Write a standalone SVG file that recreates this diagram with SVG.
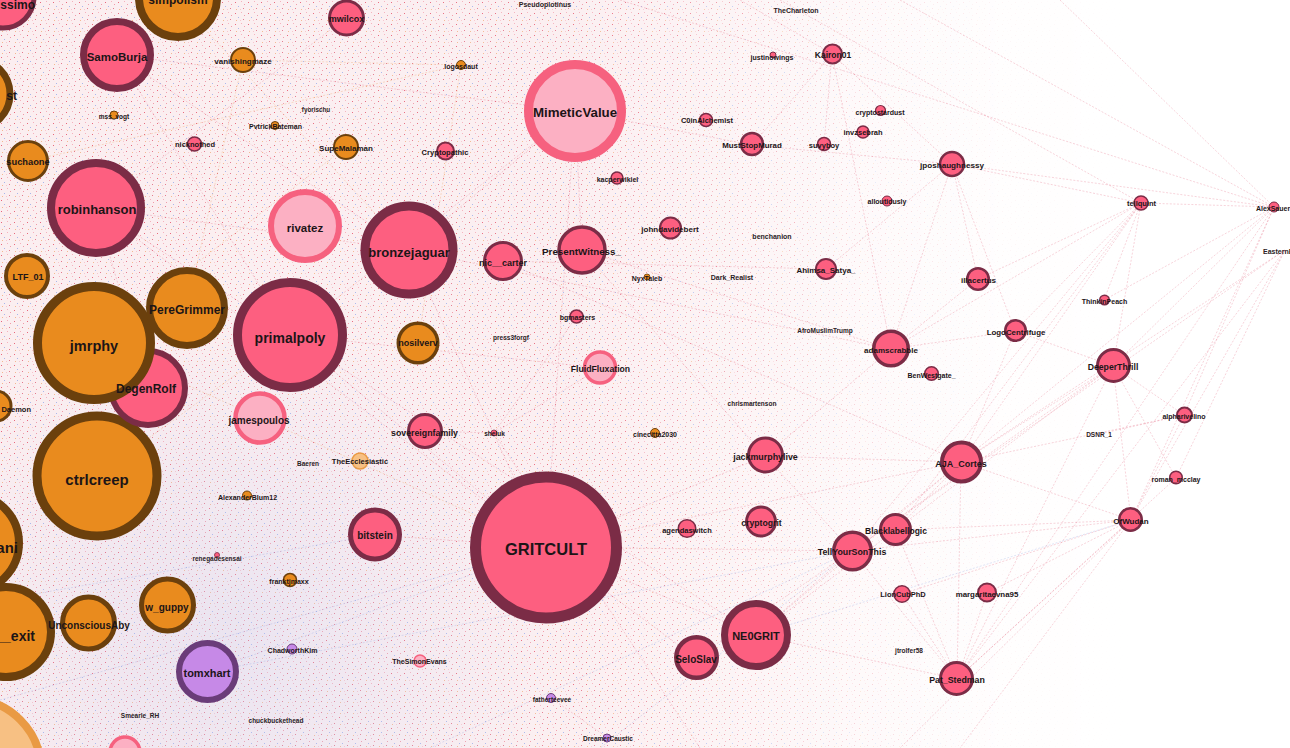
<svg xmlns="http://www.w3.org/2000/svg" width="1290" height="748" viewBox="0 0 1290 748">
<style>
.p{fill:#fd5f80;stroke:#7b2c46}
.o{fill:#e98b1e;stroke:#6b400d}
.lp{fill:#fcb0c3;stroke:#f6617f}
.pu{fill:#c689e7;stroke:#6a3c79}
.lo{fill:#f7c083;stroke:#e99a44}
.t{font-family:"Liberation Sans",Arial,sans-serif;font-weight:700;fill:#1c1517;text-anchor:middle;dominant-baseline:central}
.s{fill:#2b2225}
.e{stroke:#e0506e;stroke-width:0.6;opacity:0.42;stroke-dasharray:2 1.6;fill:none}
.eb{stroke:#7f95dd}
.eo{stroke:#e98b3a}
</style>
<defs>
<pattern id="noise" width="13" height="11" patternUnits="userSpaceOnUse">
<rect width="13" height="11" fill="#fbeef0"/>
<rect x="1" y="2" width="1" height="1" fill="#e8667c"/>
<rect x="7" y="1" width="1" height="1" fill="#f5b0bc"/>
<rect x="4" y="6" width="1" height="1" fill="#a9b6ea"/>
<rect x="10" y="4" width="1" height="1" fill="#f09aa8"/>
<rect x="2" y="9" width="1" height="1" fill="#f3b890"/>
<rect x="9" y="8" width="1" height="1" fill="#e27a8e"/>
<rect x="6" y="9" width="1" height="1" fill="#f7c5cd"/>
</pattern>
<linearGradient id="fadeG" gradientUnits="userSpaceOnUse" x1="0" y1="0" x2="1290" y2="0">
<stop offset="0" stop-color="#fff" stop-opacity="1"/>
<stop offset="0.45" stop-color="#fff" stop-opacity="0.92"/>
<stop offset="0.58" stop-color="#fff" stop-opacity="0.6"/>
<stop offset="0.68" stop-color="#fff" stop-opacity="0.28"/>
<stop offset="0.78" stop-color="#fff" stop-opacity="0.07"/>
<stop offset="0.88" stop-color="#fff" stop-opacity="0"/>
</linearGradient>
<mask id="fade" maskUnits="userSpaceOnUse" x="0" y="0" width="1290" height="748">
<rect width="1290" height="748" fill="url(#fadeG)"/>
</mask>
<radialGradient id="blueTint" cx="230" cy="640" r="320" gradientUnits="userSpaceOnUse">
<stop offset="0" stop-color="#c3caf0" stop-opacity="0.3"/>
<stop offset="1" stop-color="#c3caf0" stop-opacity="0"/>
</radialGradient>
</defs>
<rect width="1290" height="748" fill="#fff"/>
<rect width="1290" height="748" fill="url(#noise)" mask="url(#fade)"/>
<rect width="1290" height="748" fill="url(#blueTint)"/>
<g id="connectors">
<line class="e" x1="952" y1="164" x2="1141" y2="203"/>
<line class="e" x1="952" y1="164" x2="1274" y2="207"/>
<line class="e" x1="1141" y1="203" x2="1274" y2="207"/>
<line class="e" x1="1141" y1="203" x2="1015" y2="331"/>
<line class="e" x1="1141" y1="203" x2="1113" y2="366"/>
<line class="e" x1="1141" y1="203" x2="961" y2="462"/>
<line class="e" x1="1141" y1="203" x2="891" y2="349"/>
<line class="e" x1="1141" y1="203" x2="1104" y2="300"/>
<line class="e" x1="1141" y1="203" x2="896" y2="530"/>
<line class="e" x1="1141" y1="203" x2="852" y2="551"/>
<line class="e" x1="1141" y1="203" x2="978" y2="279"/>
<line class="e" x1="1274" y1="207" x2="1113" y2="366"/>
<line class="e" x1="1274" y1="207" x2="1131" y2="520"/>
<line class="e" x1="1274" y1="207" x2="961" y2="462"/>
<line class="e" x1="1274" y1="207" x2="1184" y2="415"/>
<line class="e" x1="1274" y1="207" x2="957" y2="679"/>
<line class="e" x1="1274" y1="207" x2="1104" y2="300"/>
<line class="e" x1="1285" y1="250" x2="957" y2="679"/>
<line class="e" x1="1285" y1="250" x2="961" y2="462"/>
<line class="e" x1="1285" y1="250" x2="1131" y2="520"/>
<line class="e" x1="1285" y1="250" x2="1176" y2="478"/>
<line class="e" x1="1285" y1="250" x2="852" y2="551"/>
<line class="e" x1="620" y1="0" x2="1274" y2="207"/>
<line class="e" x1="900" y1="0" x2="1274" y2="207"/>
<line class="e" x1="1060" y1="0" x2="1274" y2="207"/>
<line class="e" x1="780" y1="0" x2="1141" y2="203"/>
<line class="e" x1="1131" y1="520" x2="1113" y2="366"/>
<line class="e" x1="1131" y1="520" x2="961" y2="462"/>
<line class="e" x1="1131" y1="520" x2="957" y2="679"/>
<line class="e" x1="1131" y1="520" x2="987" y2="593"/>
<line class="e" x1="1131" y1="520" x2="902" y2="594"/>
<line class="e" x1="1131" y1="520" x2="852" y2="551"/>
<line class="e" x1="1131" y1="520" x2="896" y2="530"/>
<line class="e" x1="1131" y1="520" x2="900" y2="748"/>
<line class="e" x1="1131" y1="520" x2="960" y2="748"/>
<line class="e" x1="957" y1="679" x2="1113" y2="366"/>
<line class="e" x1="957" y1="679" x2="896" y2="530"/>
<line class="e" x1="957" y1="679" x2="961" y2="462"/>
<line class="e" x1="957" y1="679" x2="987" y2="593"/>
<line class="e" x1="957" y1="679" x2="902" y2="594"/>
<line class="e" x1="957" y1="679" x2="852" y2="551"/>
<line class="e" x1="957" y1="679" x2="756" y2="635"/>
<line class="e" x1="1113" y1="366" x2="961" y2="462"/>
<line class="e" x1="1113" y1="366" x2="1184" y2="415"/>
<line class="e" x1="1113" y1="366" x2="1176" y2="478"/>
<line class="e" x1="1113" y1="366" x2="1015" y2="331"/>
<line class="e" x1="1113" y1="366" x2="852" y2="551"/>
<line class="e" x1="1113" y1="366" x2="756" y2="635"/>
<line class="e" x1="1184" y1="415" x2="961" y2="462"/>
<line class="e" x1="1184" y1="415" x2="1099" y2="434"/>
<line class="e" x1="1184" y1="415" x2="1131" y2="520"/>
<line class="e" x1="1015" y1="331" x2="891" y2="349"/>
<line class="e" x1="1015" y1="331" x2="961" y2="462"/>
<line class="e" x1="978" y1="279" x2="891" y2="349"/>
<line class="e" x1="952" y1="164" x2="891" y2="349"/>
<line class="e" x1="952" y1="164" x2="978" y2="279"/>
<line class="e" x1="952" y1="164" x2="1015" y2="331"/>
<line class="e" x1="952" y1="164" x2="826" y2="269"/>
<line class="e" x1="952" y1="164" x2="752" y2="145"/>
<line class="e" x1="832" y1="54" x2="752" y2="145"/>
<line class="e" x1="832" y1="54" x2="952" y2="164"/>
<line class="e" x1="832" y1="54" x2="824" y2="144"/>
<line class="e" x1="832" y1="54" x2="740" y2="0"/>
<line class="e" x1="832" y1="54" x2="891" y2="349"/>
<line class="e" x1="961" y1="462" x2="852" y2="551"/>
<line class="e" x1="961" y1="462" x2="765" y2="456"/>
<line class="e" x1="961" y1="462" x2="896" y2="530"/>
<line class="e" x1="961" y1="462" x2="756" y2="635"/>
<line class="e" x1="961" y1="462" x2="546" y2="547"/>
<line class="e" x1="1176" y1="478" x2="957" y2="679"/>
<line class="e" x1="546" y1="547" x2="409" y2="250"/>
<line class="e" x1="546" y1="547" x2="290" y2="335"/>
<line class="e" x1="546" y1="547" x2="756" y2="635"/>
<line class="e" x1="546" y1="547" x2="375" y2="535"/>
<line class="e" x1="546" y1="547" x2="575" y2="111"/>
<line class="e" x1="546" y1="547" x2="765" y2="456"/>
<line class="e" x1="546" y1="547" x2="96" y2="208"/>
<line class="e" x1="546" y1="547" x2="852" y2="551"/>
<line class="e" x1="575" y1="111" x2="409" y2="250"/>
<line class="e" x1="575" y1="111" x2="290" y2="335"/>
<line class="e" x1="575" y1="111" x2="117" y2="55"/>
<line class="e" x1="575" y1="111" x2="752" y2="145"/>
<line class="e" x1="575" y1="111" x2="582" y2="250"/>
<line class="e" x1="409" y1="250" x2="117" y2="55"/>
<line class="e" x1="409" y1="250" x2="96" y2="208"/>
<line class="e" x1="409" y1="250" x2="891" y2="349"/>
<line class="e" x1="290" y1="335" x2="96" y2="208"/>
<line class="e" x1="290" y1="335" x2="117" y2="55"/>
<line class="e" x1="290" y1="335" x2="600" y2="368"/>
<line class="e" x1="290" y1="335" x2="756" y2="635"/>
<line class="e" x1="96" y1="208" x2="148" y2="388"/>
<line class="e" x1="96" y1="208" x2="346" y2="18"/>
<line class="e" x1="503" y1="261" x2="826" y2="269"/>
<line class="e" x1="503" y1="261" x2="961" y2="462"/>
<line class="e" x1="582" y1="250" x2="891" y2="349"/>
<line class="e" x1="582" y1="250" x2="765" y2="456"/>
<line class="e" x1="600" y1="368" x2="494" y2="433"/>
<line class="e" x1="494" y1="433" x2="424" y2="431"/>
<line class="e" x1="494" y1="433" x2="577" y2="316"/>
<line class="e" x1="494" y1="433" x2="700" y2="748"/>
<line class="e" x1="765" y1="456" x2="852" y2="551"/>
<line class="e" x1="765" y1="456" x2="891" y2="349"/>
<line class="e" x1="756" y1="635" x2="852" y2="551"/>
<line class="e" x1="696" y1="658" x2="852" y2="551"/>
<line class="e" x1="696" y1="658" x2="546" y2="547"/>
<line class="e" x1="608" y1="738" x2="551" y2="698"/>
<line class="e eb" x1="207" y1="672" x2="546" y2="547"/>
<line class="e eo" x1="94" y1="343" x2="546" y2="547"/>
<line class="e eo" x1="97" y1="476" x2="290" y2="335"/>
<line class="e eo" x1="178" y1="0" x2="409" y2="250"/>
<line class="e eo" x1="243" y1="60" x2="461" y2="65"/>
<line class="e eo" x1="461" y1="65" x2="418" y2="343"/>
<line class="e eo" x1="243" y1="60" x2="187" y2="308"/>
<line class="e eo" x1="346" y1="147" x2="94" y2="343"/>
<line class="e eo" x1="28" y1="161" x2="461" y2="65"/>
<line class="e eb" x1="0" y1="600" x2="375" y2="535"/>
<line class="e eb" x1="0" y1="700" x2="546" y2="547"/>
<line class="e eb" x1="207" y1="672" x2="852" y2="551"/>
<line class="e eb" x1="852" y1="551" x2="600" y2="748"/>
<line class="e eb" x1="852" y1="551" x2="430" y2="748"/>
<line class="e eb" x1="756" y1="635" x2="1131" y2="520"/>
</g>
<g id="n-rissimo"><circle class="p" cx="3" cy="-3" r="31" stroke-width="5"/><text class="t" x="35" y="5" font-size="12" style="text-anchor:end">rissimo</text></g>
<g id="n-simpolism"><circle class="o" cx="178" cy="-2" r="39" stroke-width="8"/><text class="t" x="178" y="0" font-size="12">simpolism</text></g>
<g id="n-st"><circle class="o" cx="-25" cy="94" r="35" stroke-width="7"/><text class="t" x="17" y="96" font-size="12" style="text-anchor:end">st</text></g>
<g id="n-bigLight"><circle class="lo" cx="-30" cy="770" r="71" stroke-width="8"/></g>
<g id="n-ani"><circle class="o" cx="-30" cy="543" r="49" stroke-width="8"/><text class="t" x="18" y="547" font-size="15" style="text-anchor:end">ani</text></g>
<g id="n-exit"><circle class="o" cx="6" cy="632" r="45" stroke-width="8"/><text class="t" x="35" y="636" font-size="14" style="text-anchor:end">__exit</text></g>
<g id="n-Daemon"><circle class="o" cx="-4" cy="406" r="15" stroke-width="3"/><text class="t" x="31" y="409" font-size="7.5" style="text-anchor:end">Daemon</text></g>
<g id="n-GRITCULT"><circle class="p" cx="546" cy="547.5" r="70.5" stroke-width="11"/><text class="t" x="546" y="549" font-size="16.5">GRITCULT</text></g>
<g id="n-ctrlcreep"><circle class="o" cx="97" cy="476" r="60" stroke-width="9"/><text class="t" x="97" y="479" font-size="15">ctrlcreep</text></g>
<g id="n-DegenRolf"><circle class="p" cx="148" cy="388" r="37" stroke-width="6"/></g>
<g id="n-jmrphy"><circle class="o" cx="94" cy="343" r="56.5" stroke-width="9"/><text class="t" x="94" y="346" font-size="14.5">jmrphy</text></g>
<g id="n-DegenRolf-label"><text class="t" x="146" y="389" font-size="12">DegenRolf</text></g>
<g id="n-primalpoly"><circle class="p" cx="290" cy="335" r="52.5" stroke-width="9"/><text class="t" x="290" y="338" font-size="14">primalpoly</text></g>
<g id="n-MimeticValue"><circle class="lp" cx="575" cy="111" r="46.5" stroke-width="9"/><text class="t" x="575" y="112" font-size="13.3">MimeticValue</text></g>
<g id="n-robinhanson"><circle class="p" cx="96" cy="208" r="45" stroke-width="8"/><text class="t" x="97" y="209" font-size="13">robinhanson</text></g>
<g id="n-bronzejaguar"><circle class="p" cx="409" cy="250" r="44" stroke-width="9"/><text class="t" x="409" y="252" font-size="13">bronzejaguar</text></g>
<g id="n-PereGrimmer"><circle class="o" cx="187" cy="308" r="37.5" stroke-width="7"/><text class="t" x="187" y="310" font-size="12">PereGrimmer</text></g>
<g id="n-SamoBurja"><circle class="p" cx="117" cy="55" r="33.5" stroke-width="7"/><text class="t" x="117" y="57" font-size="11.5">SamoBurja</text></g>
<g id="n-rivatez"><circle class="lp" cx="305" cy="226" r="34" stroke-width="6"/><text class="t" x="305" y="228" font-size="11.5">rivatez</text></g>
<g id="n-NE0GRIT"><circle class="p" cx="756" cy="635" r="31.5" stroke-width="7"/><text class="t" x="756" y="636" font-size="11">NE0GRIT</text></g>
<g id="n-tomxhart"><circle class="pu" cx="207.5" cy="671.5" r="28.5" stroke-width="6"/><text class="t" x="207" y="673" font-size="11">tomxhart</text></g>
<g id="n-UnconsciousAby"><circle class="o" cx="88.5" cy="623" r="26" stroke-width="5"/><text class="t" x="89" y="625" font-size="10">UnconsciousAby</text></g>
<g id="n-w_guppy"><circle class="o" cx="167.5" cy="605" r="26" stroke-width="5"/><text class="t" x="167" y="607" font-size="10">w_guppy</text></g>
<g id="n-jamespoulos"><circle class="lp" cx="260" cy="418" r="24.5" stroke-width="4.5"/><text class="t" x="259" y="420" font-size="10">jamespoulos</text></g>
<g id="n-bitstein"><circle class="p" cx="375" cy="534.5" r="24.5" stroke-width="5"/><text class="t" x="375" y="535" font-size="10">bitstein</text></g>
<g id="n-PresentWitness_"><circle class="p" cx="582" cy="250" r="23" stroke-width="3.5"/><text class="t" x="581.5" y="251" font-size="9.8">PresentWitness_</text></g>
<g id="n-LTF_01"><circle class="o" cx="27" cy="276" r="21" stroke-width="4"/><text class="t" x="28" y="277" font-size="9">LTF_01</text></g>
<g id="n-SeloSlav"><circle class="p" cx="696.5" cy="657.5" r="20.25" stroke-width="4.5"/><text class="t" x="696" y="659" font-size="10">SeloSlav</text></g>
<g id="n-suchaone"><circle class="o" cx="28" cy="161" r="19.5" stroke-width="3"/><text class="t" x="28" y="162" font-size="9.3">suchaone</text></g>
<g id="n-nosilverv"><circle class="o" cx="418" cy="343" r="19.75" stroke-width="3.5"/><text class="t" x="418" y="343" font-size="9">nosilverv</text></g>
<g id="n-AJA_Cortes"><circle class="p" cx="961.5" cy="462" r="19.5" stroke-width="4"/><text class="t" x="961" y="464" font-size="9">AJA_Cortes</text></g>
<g id="n-TellYourSonThis"><circle class="p" cx="852.5" cy="551" r="18.75" stroke-width="3.5"/><text class="t" x="852" y="552" font-size="8.8">TellYourSonThis</text></g>
<g id="n-nic__carter"><circle class="p" cx="503" cy="261" r="18.5" stroke-width="3"/><text class="t" x="503" y="263" font-size="9">nic__carter</text></g>
<g id="n-adamscrabble"><circle class="p" cx="891" cy="348.5" r="17.25" stroke-width="3.5"/><text class="t" x="891" y="350" font-size="8">adamscrabble</text></g>
<g id="n-mwilcox"><circle class="p" cx="346.5" cy="18" r="17" stroke-width="3"/><text class="t" x="346.5" y="19" font-size="9">mwilcox</text></g>
<g id="n-jackmurphylive"><circle class="p" cx="765.5" cy="455" r="17" stroke-width="3"/><text class="t" x="765.5" y="457" font-size="8.9">jackmurphylive</text></g>
<g id="n-sovereignfamily"><circle class="p" cx="425" cy="431" r="16.5" stroke-width="3"/><text class="t" x="424.5" y="433" font-size="8.8">sovereignfamily</text></g>
<g id="n-DeeperThrill"><circle class="p" cx="1113.5" cy="365.5" r="16" stroke-width="3"/><text class="t" x="1113" y="367" font-size="8.7">DeeperThrill</text></g>
<g id="n-Pat_Stedman"><circle class="p" cx="956.5" cy="678.5" r="16" stroke-width="3"/><text class="t" x="957" y="680" font-size="8.8">Pat_Stedman</text></g>
<g id="n-FluidFluxation"><circle class="lp" cx="600" cy="367.5" r="15.5" stroke-width="3.5"/><text class="t" x="600.5" y="369" font-size="8.7">FluidFluxation</text></g>
<g id="n-Blacklabellogic"><circle class="p" cx="895.5" cy="529.5" r="15" stroke-width="3"/><text class="t" x="896" y="531" font-size="8.5">Blacklabellogic</text></g>
<g id="n-cryptogrit"><circle class="p" cx="761" cy="521.5" r="14.5" stroke-width="3"/><text class="t" x="761.5" y="523" font-size="8.7">cryptogrit</text></g>
<g id="n-jposhaughnessy"><circle class="p" cx="952" cy="164" r="12" stroke-width="2.5"/><text class="t" x="952" y="165" font-size="8.1">jposhaughnessy</text></g>
<g id="n-vanishingmaze"><circle class="o" cx="243" cy="60" r="12" stroke-width="2"/><text class="t" x="243" y="61" font-size="8">vanishingmaze</text></g>
<g id="n-SupeMalaman"><circle class="o" cx="346" cy="147" r="12" stroke-width="2"/><text class="t" x="346" y="148" font-size="8">SupeMalaman</text></g>
<g id="n-MustStopMurad"><circle class="p" cx="752" cy="144" r="11" stroke-width="2.5"/><text class="t" x="752" y="145" font-size="7.9">MustStopMurad</text></g>
<g id="n-OfWudan"><circle class="p" cx="1130.5" cy="519.5" r="11.25" stroke-width="2.5"/><text class="t" x="1131" y="521" font-size="8">OfWudan</text></g>
<g id="n-illacertus"><circle class="p" cx="978" cy="279" r="10.75" stroke-width="2.5"/><text class="t" x="978.5" y="280" font-size="8">illacertus</text></g>
<g id="n-LogoCentrifuge"><circle class="p" cx="1015.5" cy="330.5" r="10.25" stroke-width="2.5"/><text class="t" x="1016" y="332" font-size="7.9">LogoCentrifuge</text></g>
<g id="n-johndavidebert"><circle class="p" cx="670.5" cy="228" r="10.5" stroke-width="2"/><text class="t" x="670" y="229" font-size="8">johndavidebert</text></g>
<g id="n-Ahimsa_Satya_"><circle class="p" cx="826" cy="269" r="10" stroke-width="2"/><text class="t" x="826" y="270" font-size="8">Ahimsa_Satya_</text></g>
<g id="n-Kairon01"><circle class="p" cx="832.5" cy="54" r="9.5" stroke-width="2"/><text class="t" x="833" y="55" font-size="8.5">Kairon01</text></g>
<g id="n-margaritaevna95"><circle class="p" cx="987" cy="592.5" r="9" stroke-width="2"/><text class="t" x="987" y="594" font-size="7.9">margaritaevna95</text></g>
<g id="n-agendaswitch"><circle class="p" cx="687" cy="528.5" r="8.75" stroke-width="1.5"/><text class="t" x="687" y="530" font-size="7.5">agendaswitch</text></g>
<g id="n-Cryptopathic"><circle class="p" cx="445.5" cy="151" r="8.5" stroke-width="2"/><text class="t" x="445" y="152" font-size="7.6">Cryptopathic</text></g>
<g id="n-LionCubPhD"><circle class="p" cx="902" cy="594" r="8.25" stroke-width="1.5"/><text class="t" x="903" y="594" font-size="7.5">LionCubPhD</text></g>
<g id="n-TheEcclesiastic"><circle class="lo" cx="360" cy="461" r="8" stroke-width="1.5"/><text class="t" x="360" y="461" font-size="7.5">TheEcclesiastic</text></g>
<g id="n-alpharivelino"><circle class="p" cx="1184.5" cy="415" r="7.5" stroke-width="2"/><text class="t" x="1184" y="416" font-size="7">alpharivelino</text></g>
<g id="n-nicknothed"><circle class="p" cx="194.5" cy="144" r="7" stroke-width="1.5"/><text class="t" x="195" y="144" font-size="7.5">nicknothed</text></g>
<g id="n-tellquint"><circle class="p" cx="1141" cy="203" r="7" stroke-width="1.5"/><text class="t" x="1141.5" y="203" font-size="7.5">tellquint</text></g>
<g id="n-BenWestgate_"><circle class="p" cx="931.5" cy="373.5" r="6.75" stroke-width="1.5"/><text class="t" x="931.5" y="375" font-size="7">BenWestgate_</text></g>
<g id="n-C0inAlchemist"><circle class="p" cx="706" cy="120" r="6.5" stroke-width="1.5"/><text class="t" x="707" y="120" font-size="7.5">C0inAlchemist</text></g>
<g id="n-suvyboy"><circle class="p" cx="824" cy="144" r="6.5" stroke-width="1.5"/><text class="t" x="824" y="145" font-size="7.5">suvyboy</text></g>
<g id="n-bgmasters"><circle class="p" cx="576.5" cy="316.5" r="6.5" stroke-width="1.5"/><text class="t" x="577.5" y="317" font-size="7">bgmasters</text></g>
<g id="n-franktjmaxx"><circle class="o" cx="290" cy="580" r="6.5" stroke-width="1.5"/><text class="t" x="289" y="581" font-size="7">franktjmaxx</text></g>
<g id="n-kacperwikiel"><circle class="p" cx="617" cy="178" r="6" stroke-width="1.5"/><text class="t" x="617.5" y="179" font-size="7">kacperwikiel</text></g>
<g id="n-invzsebrah"><circle class="p" cx="863" cy="132" r="6" stroke-width="1.5"/><text class="t" x="863" y="132" font-size="7.5">invzsebrah</text></g>
<g id="n-roman_mcclay"><circle class="p" cx="1176" cy="477.5" r="6.25" stroke-width="1.5"/><text class="t" x="1176" y="479" font-size="7">roman_mcclay</text></g>
<g id="n-TheSimonEvans"><circle class="lp" cx="420" cy="661" r="6" stroke-width="1.5"/><text class="t" x="419.5" y="661" font-size="7">TheSimonEvans</text></g>
<g id="n-cryptostardust"><circle class="p" cx="880.5" cy="110.5" r="5" stroke-width="1.2"/><text class="t" x="880" y="112" font-size="7">cryptostardust</text></g>
<g id="n-alloutidusly"><circle class="p" cx="887" cy="201" r="5" stroke-width="1"/><text class="t" x="887" y="201" font-size="7">alloutidusly</text></g>
<g id="n-ThinkinPeach"><circle class="p" cx="1104.5" cy="300" r="4.75" stroke-width="1.5"/><text class="t" x="1104.5" y="301" font-size="7">ThinkinPeach</text></g>
<g id="n-AlexSauer"><circle class="p" cx="1274" cy="207" r="5" stroke-width="1"/><text class="t" x="1273" y="208" font-size="7">AlexSauer</text></g>
<g id="n-ChadworthKim"><circle class="pu" cx="292" cy="649" r="5" stroke-width="1"/><text class="t" x="292.5" y="650" font-size="7">ChadworthKim</text></g>
<g id="n-logosdaut"><circle class="o" cx="461" cy="65" r="4.5" stroke-width="1"/><text class="t" x="461" y="66" font-size="7">logosdaut</text></g>
<g id="n-cinecitta2030"><circle class="o" cx="655" cy="433" r="4.5" stroke-width="1"/><text class="t" x="655" y="434" font-size="7">cinecitta2030</text></g>
<g id="n-AlexanderBlum12"><circle class="o" cx="247" cy="495.5" r="4.5" stroke-width="1"/><text class="t" x="247.5" y="497" font-size="7">AlexanderBlum12</text></g>
<g id="n-fatherteevee"><circle class="pu" cx="551" cy="698" r="4.5" stroke-width="1"/><text class="t" x="552" y="699" font-size="6.5">fatherteevee</text></g>
<g id="n-mss_vogt"><circle class="o" cx="114" cy="115" r="4" stroke-width="1"/><text class="t" x="114" y="116" font-size="6.5">mss_vogt</text></g>
<g id="n-PvtrickBateman"><circle class="o" cx="275" cy="125.5" r="4" stroke-width="1"/><text class="t" x="275.5" y="126" font-size="7">PvtrickBateman</text></g>
<g id="n-DreamerCaustic"><circle class="pu" cx="607" cy="738" r="4" stroke-width="1"/><text class="t" x="608" y="738" font-size="6.5">DreamerCaustic</text></g>
<g id="n-NyxTaleb"><circle class="o" cx="647" cy="277" r="3" stroke-width="0.8"/><text class="t" x="647" y="278" font-size="7">NyxTaleb</text></g>
<g id="n-justinowings"><circle class="p" cx="773" cy="55" r="3" stroke-width="1"/><text class="t" x="772" y="57" font-size="7">justinowings</text></g>
<g id="n-sheluk"><circle class="p" cx="494" cy="433" r="3" stroke-width="0.8"/><text class="t" x="494.5" y="433" font-size="6.5">sheluk</text></g>
<g id="n-renegadesensai"><circle class="p" cx="217" cy="555" r="2.5" stroke-width="0.8"/><text class="t s" x="217" y="558" font-size="6.5">renegadesensai</text></g>
<g id="n-lightPinkBottom"><circle class="lp" cx="125" cy="752" r="15" stroke-width="3.5"/></g>
<g id="n-Pseudoplotinus"><text class="t s" x="545" y="4" font-size="7">Pseudoplotinus</text></g>
<g id="n-TheCharleton"><text class="t s" x="796" y="10" font-size="7">TheCharleton</text></g>
<g id="n-fyorischu"><text class="t s" x="316" y="109" font-size="6.3">fyorischu</text></g>
<g id="n-benchanion"><text class="t s" x="772" y="236" font-size="7">benchanion</text></g>
<g id="n-Dark_Realist"><text class="t s" x="732" y="277" font-size="7">Dark_Realist</text></g>
<g id="n-press3forgf"><text class="t s" x="511" y="337" font-size="6.5">press3forgf</text></g>
<g id="n-AfroMuslimTrump"><text class="t s" x="825" y="330" font-size="6.5">AfroMuslimTrump</text></g>
<g id="n-chrismartenson"><text class="t s" x="752" y="403" font-size="6.5">chrismartenson</text></g>
<g id="n-Baeren"><text class="t s" x="308" y="463" font-size="6.5">Baeren</text></g>
<g id="n-Smearle_RH"><text class="t s" x="140" y="715" font-size="6.5">Smearle_RH</text></g>
<g id="n-chuckbuckethead"><text class="t s" x="276" y="720" font-size="6.5">chuckbuckethead</text></g>
<g id="n-DSNR_1"><text class="t s" x="1099" y="434" font-size="6.5">DSNR_1</text></g>
<g id="n-jtrolfer58"><text class="t s" x="909" y="650" font-size="6.5">jtrolfer58</text></g>
<g id="n-EasternB"><text class="t s" x="1263" y="251" font-size="7" style="text-anchor:start">EasternB</text></g>
</svg>
